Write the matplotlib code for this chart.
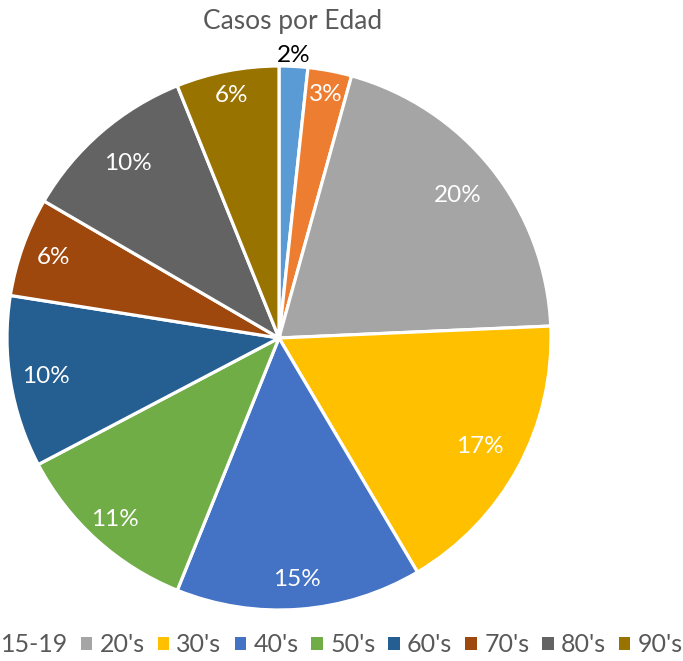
import numpy as np
import matplotlib
matplotlib.use("Agg")
import matplotlib.pyplot as plt
from matplotlib.patches import Patch

plt.rcParams['font.family'] = ['Lato', 'DejaVu Sans']

# datos (porcentaje por grupo de edad)
edades = ["<15", "15-19", "20's", "30's", "40's", "50's", "60's", "70's", "80's", "90's"]
valores = [1.7, 2.6, 20.0, 17.2, 14.6, 11.2, 10.2, 5.9, 10.5, 6.1]
etiquetas = ["2%", "3%", "20%", "17%", "15%", "11%", "10%", "6%", "10%", "6%"]
colores = ["#5B9BD5", "#ED7D31", "#A5A5A5", "#FFC000", "#4472C4",
           "#70AD47", "#255E91", "#9E480E", "#636363", "#997300"]

W, H = 683, 661
fig = plt.figure(figsize=(W / 100, H / 100), dpi=100)

cx, cy, R = 279, 338, 272
ax = fig.add_axes([(cx - R) / W, (H - cy - R) / H, 2 * R / W, 2 * R / H])

wedges, _ = ax.pie(valores, colors=colores, startangle=90, counterclock=False,
                   radius=1, wedgeprops=dict(edgecolor='white', linewidth=2.3))
# pie() cambia los limites, se fijan despues
ax.set_xlim(-1, 1)
ax.set_ylim(-1, 1)
ax.set_aspect('equal')
ax.axis('off')

# etiquetas de datos
dist = [1.04, 0.91, 0.84, 0.84, 0.89, 0.90, 0.87, 0.88, 0.85, 0.91]
for w, txt, d in zip(wedges, etiquetas, dist):
    ang = np.deg2rad((w.theta1 + w.theta2) / 2)
    col = 'black' if d > 1 else 'white'
    ax.text(d * np.cos(ang), d * np.sin(ang), txt, ha='center', va='center',
            fontsize=17.5, color=col, clip_on=False)

fig.text(293 / W, 1 - 22 / H, "Casos por Edad", ha='center', va='center',
         fontsize=19, color='#595959')

# la leyenda original queda cortada a la izquierda (la primera entrada no se ve)
handles = [Patch(facecolor=c, edgecolor='none') for c in colores[1:]]
fig.legend(handles, edades[1:], loc='center right', bbox_to_anchor=(1.0, 1 - 645 / H),
           ncol=len(edades) - 1, frameon=False, fontsize=18, labelcolor='#595959',
           handlelength=0.45, handleheight=0.45, handletextpad=0.3,
           columnspacing=0.52, borderpad=0, borderaxespad=0)

fig.savefig("out.png", dpi=100)
